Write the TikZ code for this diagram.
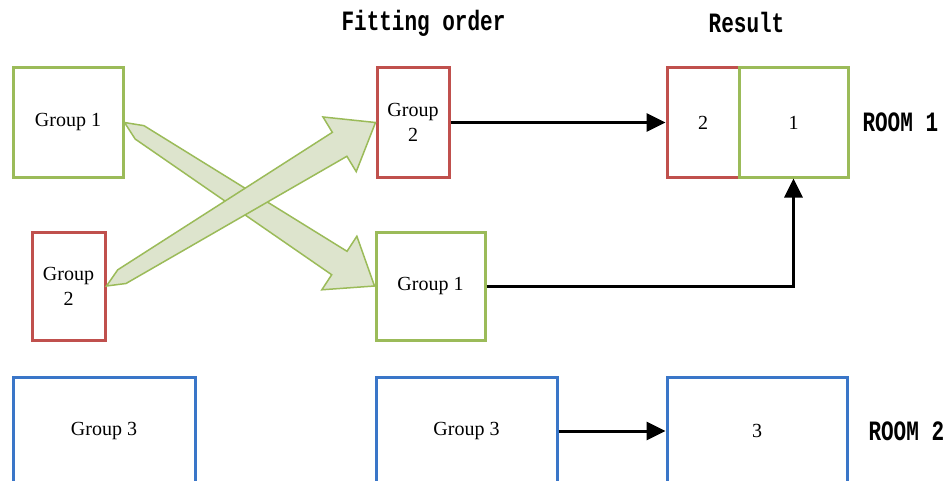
\documentclass[tikz,border=0pt]{standalone}
\usepackage{fontspec}
\usepackage{graphicx}
\usepackage{xcolor}
\usetikzlibrary{arrows.meta,calc}
\setmainfont{Liberation Serif}
\newfontfamily\headfont{Liberation Mono}

\definecolor{grpgreen}{RGB}{155,187,89}
\definecolor{grpred}{RGB}{192,80,77}
\definecolor{grpblue}{RGB}{58,118,200}
\definecolor{swapfill}{RGB}{221,228,205}

\newcommand{\headtext}[1]{\scalebox{0.75}[1]{\headfont\bfseries\fontsize{28}{30}\selectfont #1}}

\begin{document}
\begin{tikzpicture}[x=1pt,y=-1pt,
    box/.style={draw, line width=3pt, inner sep=0pt, align=center,
        font=\fontsize{20}{25}\selectfont},
    conn/.style={line width=3pt, -{Triangle[length=19pt,width=18pt]}},
    bigarrow/.style={draw=grpgreen, fill=swapfill, line width=1.5pt, line join=miter}]
    \useasboundingbox (0,0) rectangle (949,481);
    \clip (0,0) rectangle (949,481);

    % headings
    \node (fit) at (423.5,23) {\headtext{Fitting order}};
    \node (res) at (746.5,22) {\headtext{Result}};

    % groups before fitting
    \node[box, draw=grpgreen, minimum width=110pt, minimum height=109pt] (g1a) at (68,122.5) {Group 1};
    \node[box, draw=grpred, minimum width=73pt, minimum height=108pt] (g2a) at (68.5,286) {Group\\2};
    \node[box, draw=grpblue, minimum width=182pt, minimum height=108pt] (g3a) at (104,431) {Group 3};

    % fitting order
    \node[box, draw=grpred, minimum width=72pt, minimum height=109pt] (g2b) at (413,122.5) {Group\\2};
    \node[box, draw=grpgreen, minimum width=109pt, minimum height=108pt] (g1b) at (430.5,286) {Group 1};
    \node[box, draw=grpblue, minimum width=181pt, minimum height=108pt] (g3b) at (466.5,431) {Group 3};

    % rooms
    \node[box, draw=grpred, minimum width=72pt, minimum height=109pt] (r2) at (703,122.5) {2};
    \node[box, draw=grpgreen, minimum width=109pt, minimum height=109pt] (r1) at (793.5,122.5) {1};
    \node[box, draw=grpblue, minimum width=180pt, minimum height=108pt] (r3) at (757,431) {3};
    \node[anchor=west] (room1) at (859,122) {\headtext{ROOM 1}};
    \node[anchor=west] (room2) at (865,431) {\headtext{ROOM 2}};

    % swap arrows, tapered shaft
    \foreach \from/\to in {g1a/g1b, g2a/g2b} {
        \path (\from.east) coordinate (t0) (\to.west) coordinate (t1)
            ($(t0)!18pt!(t1)$) coordinate (s0)
            ($(t1)!42pt!(t0)$) coordinate (s1);
        \draw[bigarrow] (t0) -- ($(s0)!8pt!90:(t1)$) -- ($(s1)!14pt!-90:(t0)$)
            -- ($(s1)!32pt!-90:(t0)$) -- (t1) -- ($(s1)!32pt!90:(t0)$)
            -- ($(s1)!14pt!90:(t0)$) -- ($(s0)!8pt!-90:(t1)$) -- cycle;
    }

    \draw[conn] (g2b) -- (r2);
    \draw[conn] (g1b.east) -| (r1.south);
    \draw[conn] (g3b) -- (r3);
\end{tikzpicture}
\end{document}
